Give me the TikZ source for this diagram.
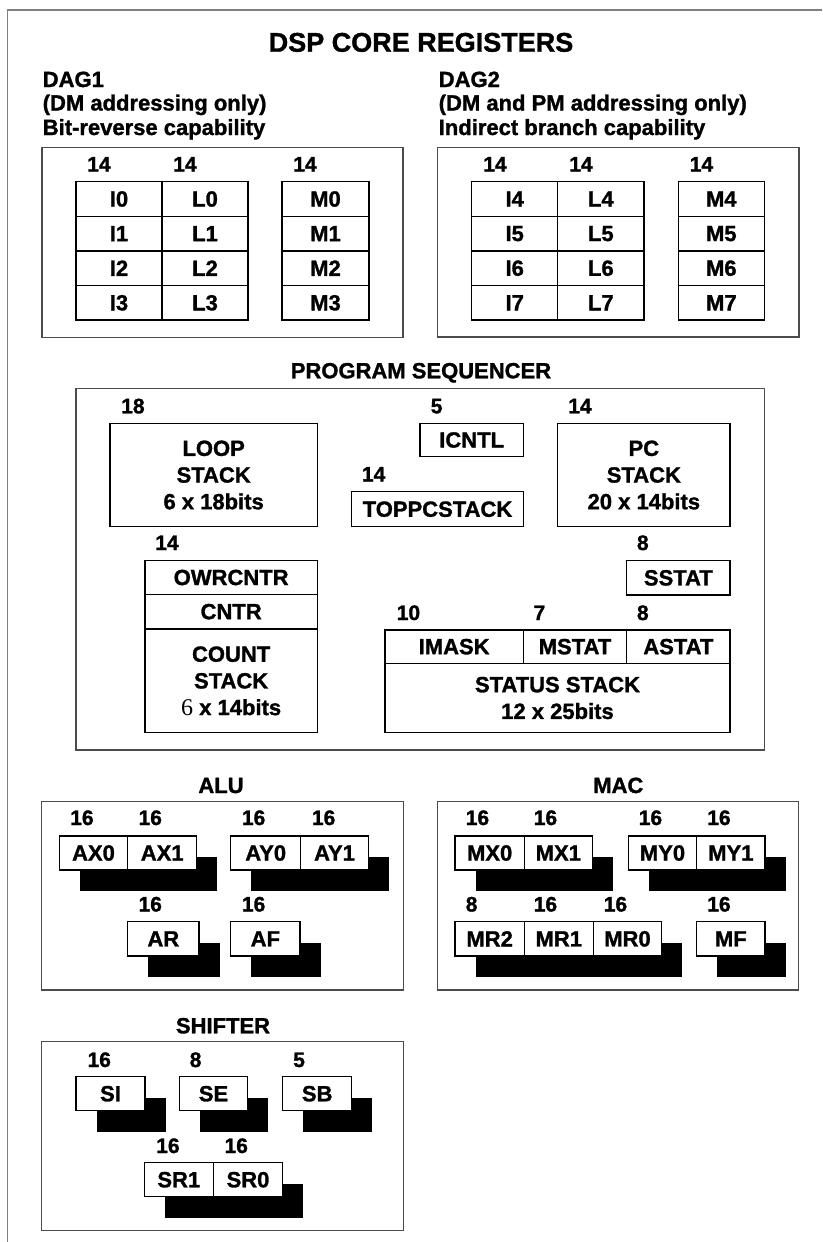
\documentclass[tikz,border=0pt]{standalone}
\usepackage{fontspec}
\setmainfont{Liberation Sans}[BoldFeatures={FakeBold=1.3}]
\newfontfamily\sixfont{Liberation Serif}
\usetikzlibrary{backgrounds}
\tikzset{
  box/.style 2 args={minimum width=#1*0.75pt, minimum height=#2*0.75pt},
  reg/.style={draw=black, line width=1.1pt, fill=white, inner sep=0pt, outer sep=0pt,
    anchor=north west, align=center, font=\fontsize{16.5pt}{20pt}\selectfont\bfseries},
  sec/.style={draw=black!70, line width=0.8pt, inner sep=0pt, outer sep=0pt, anchor=north west},
  bits/.style={anchor=base west, inner sep=0pt, font=\fontsize{15.75pt}{18pt}\selectfont\bfseries},
  hdr/.style={anchor=base west, inner sep=0pt, font=\fontsize{16.5pt}{20pt}\selectfont\bfseries},
  sectitle/.style={anchor=base, inner sep=0pt, font=\fontsize{16.5pt}{20pt}\selectfont\bfseries},
  maintitle/.style={anchor=base, inner sep=0pt, font=\fontsize{20.25pt}{24pt}\selectfont\bfseries},
  shadowbox/.style={fill=black},
  frameline/.style={draw=black!50, line width=1.1pt},
}
\begin{document}
\begin{tikzpicture}[x=0.75pt,y=-0.75pt]
\useasboundingbox (0,0) rectangle (822,1242);
\draw[frameline] (7.3,1242) -- (7.3,10) -- (822,10);

\node[maintitle] (title) at (421,51.7) {DSP CORE REGISTERS};

% ---------------- DAG1
\node[hdr] (dag1a) at (42.5,87) {DAG1};
\node[hdr] (dag1b) at (42.5,110.5) {(DM addressing only)};
\node[hdr] (dag1c) at (42.5,135) {Bit-reverse capability};
\node[sec, box={361}{190}] (dag1) at (42,147.5) {};
\node[bits] (d1bi) at (87,171.5) {14};
\node[bits] (d1bl) at (173,171.5) {14};
\node[bits] (d1bm) at (293,171.5) {14};
\foreach \r in {0,1,2,3}{
  \pgfmathsetmacro\yy{181.7+34.6*\r}
  \node[reg, box={86}{34.6}] (i\r) at (76,\yy) {I\r};
  \node[reg, box={86}{34.6}] (l\r) at (162,\yy) {L\r};
  \node[reg, box={87}{34.6}] (m\r) at (282,\yy) {M\r};
}

% ---------------- DAG2
\node[hdr] (dag2a) at (438.5,87) {DAG2};
\node[hdr] (dag2b) at (438.5,110.5) {(DM and PM addressing only)};
\node[hdr] (dag2c) at (438.5,135) {Indirect branch capability};
\node[sec, box={361.7}{189.5}] (dag2) at (437.3,147.5) {};
\node[bits] (d2bi) at (483,171.5) {14};
\node[bits] (d2bl) at (569,171.5) {14};
\node[bits] (d2bm) at (689.5,171.5) {14};
\foreach \r in {0,1,2,3}{
  \pgfmathsetmacro\yy{181.7+34.6*\r}
  \pgfmathtruncatemacro\n{\r+4}
  \node[reg, box={86}{34.6}] (i\n) at (471.7,\yy) {I\n};
  \node[reg, box={86.3}{34.6}] (l\n) at (557.7,\yy) {L\n};
  \node[reg, box={86}{34.6}] (m\n) at (678.3,\yy) {M\n};
}

% ---------------- PROGRAM SEQUENCER
\node[sectitle] (seqt) at (421,378.3) {PROGRAM SEQUENCER};
\node[sec, box={688.3}{361.7}] (seq) at (76,388.3) {};
\node[bits] (bloop) at (121,413.3) {18};
\node[reg, box={207.3}{103.4}] (loop) at (110,423.3) {LOOP\\STACK\\6 x 18bits};
\node[bits] (bicntl) at (430.5,413.3) {5};
\node[reg, box={103.3}{33.4}] (icntl) at (420,423.3) {ICNTL};
\node[bits] (btop) at (361.7,481.5) {14};
\node[reg, box={171.6}{35}] (toppc) at (351.7,491.7) {TOPPCSTACK};
\node[bits] (bpc) at (568,413.3) {14};
\node[reg, box={172.3}{103.4}] (pc) at (557.7,423.3) {PC\\STACK\\20 x 14bits};
\node[bits] (bsstat) at (636.7,550) {8};
\node[reg, box={103.3}{34.3}] (sstat) at (626.7,560.7) {SSTAT};
\node[bits] (bcnt) at (155,550) {14};
\node[reg, box={172.3}{33.6}] (owr) at (145,560.7) {OWRCNTR};
\node[reg, box={172.3}{34.7}] (cntr) at (145,594.3) {CNTR};
\node[reg, box={172.3}{103.7}] (cstack) at (145,629) {COUNT\\STACK\\{\sixfont\mdseries\fontsize{18pt}{20pt}\selectfont 6} x 14bits};
\node[bits] (bimask) at (396.5,620) {10};
\node[bits] (bmstat) at (533.3,620) {7};
\node[bits] (bastat) at (636.7,620) {8};
\node[reg, box={138.3}{33.3}] (imask) at (385,630) {IMASK};
\node[reg, box={103.4}{33.3}] (mstat) at (523.3,630) {MSTAT};
\node[reg, box={103.3}{33.3}] (astat) at (626.7,630) {ASTAT};
\node[reg, box={345}{69.4}] (sstack) at (385,663.3) {STATUS STACK\\12 x 25bits};

% ---------------- ALU
\node[sectitle] (alut) at (221,793) {ALU};
\node[sec, box={361.6}{188.3}] (alu) at (41.7,801.7) {};
\node[bits] (bax0) at (70,825) {16};
\node[bits] (bax1) at (138.3,825) {16};
\node[bits] (bay0) at (241.7,825) {16};
\node[bits] (bay1) at (311.7,825) {16};
\node[reg, box={68.4}{34}] (ax0) at (59.3,836) {AX0};
\node[reg, box={69}{34}] (ax1) at (127.7,836) {AX1};
\node[reg, box={70}{34}] (ay0) at (230.7,836) {AY0};
\node[reg, box={67.6}{34}] (ay1) at (300.7,836) {AY1};
\node[bits] (bar) at (138.3,911.5) {16};
\node[bits] (baf) at (241.7,911.5) {16};
\node[reg, box={71.3}{34.3}] (ar) at (127.7,921.7) {AR};
\node[reg, box={69.3}{34.3}] (af) at (230.7,921.7) {AF};

% ---------------- MAC
\node[sectitle] (mact) at (618.3,793) {MAC};
\node[sec, box={361}{188.3}] (mac) at (437.3,801.7) {};
\node[bits] (bmx0) at (465.5,825) {16};
\node[bits] (bmx1) at (533.5,825) {16};
\node[bits] (bmy0) at (638.5,825) {16};
\node[bits] (bmy1) at (707,825) {16};
\node[reg, box={69.3}{34}] (mx0) at (455,836) {MX0};
\node[reg, box={68}{34}] (mx1) at (524.3,836) {MX1};
\node[reg, box={68.4}{34}] (my0) at (628.3,836) {MY0};
\node[reg, box={68.3}{34}] (my1) at (696.7,836) {MY1};
\node[bits] (bmr2) at (465.5,911.5) {8};
\node[bits] (bmr1) at (533.5,911.5) {16};
\node[bits] (bmr0) at (603.5,911.5) {16};
\node[bits] (bmf) at (707,911.5) {16};
\node[reg, box={69.3}{34.3}] (mr2) at (455,921.7) {MR2};
\node[reg, box={69}{34.3}] (mr1) at (524.3,921.7) {MR1};
\node[reg, box={68.4}{34.3}] (mr0) at (593.3,921.7) {MR0};
\node[reg, box={68.3}{34.3}] (mf) at (696.7,921.7) {MF};

% ---------------- SHIFTER
\node[sectitle] (shit) at (223,1033.3) {SHIFTER};
\node[sec, box={361.6}{188.8}] (shifter) at (41.7,1041.7) {};
\node[bits] (bsi) at (87.3,1067) {16};
\node[bits] (bse) at (189.5,1067) {8};
\node[bits] (bsb) at (293,1067) {5};
\node[reg, box={69}{34}] (si) at (76,1076.7) {SI};
\node[reg, box={68.4}{34}] (se) at (179.3,1076.7) {SE};
\node[reg, box={69}{34}] (sb) at (282.7,1076.7) {SB};
\node[bits] (bsr1) at (156,1153) {16};
\node[bits] (bsr0) at (224.3,1153) {16};
\node[reg, box={69}{34}] (sr1) at (144.3,1162.7) {SR1};
\node[reg, box={69.4}{34}] (sr0) at (213.3,1162.7) {SR0};

% ---------------- shadows
\begin{scope}[on background layer]
  \foreach \a/\b in {ax0/ax1, ay0/ay1, ar/ar, af/af, mx0/mx1, my0/my1, mr2/mr0, mf/mf, si/si, se/se, sb/sb, sr1/sr0}{
    \fill[shadowbox] ([shift={(20.5,21)}]\a.north west) rectangle ([shift={(20.5,21)}]\b.south east);
  }
\end{scope}
\end{tikzpicture}
\end{document}
